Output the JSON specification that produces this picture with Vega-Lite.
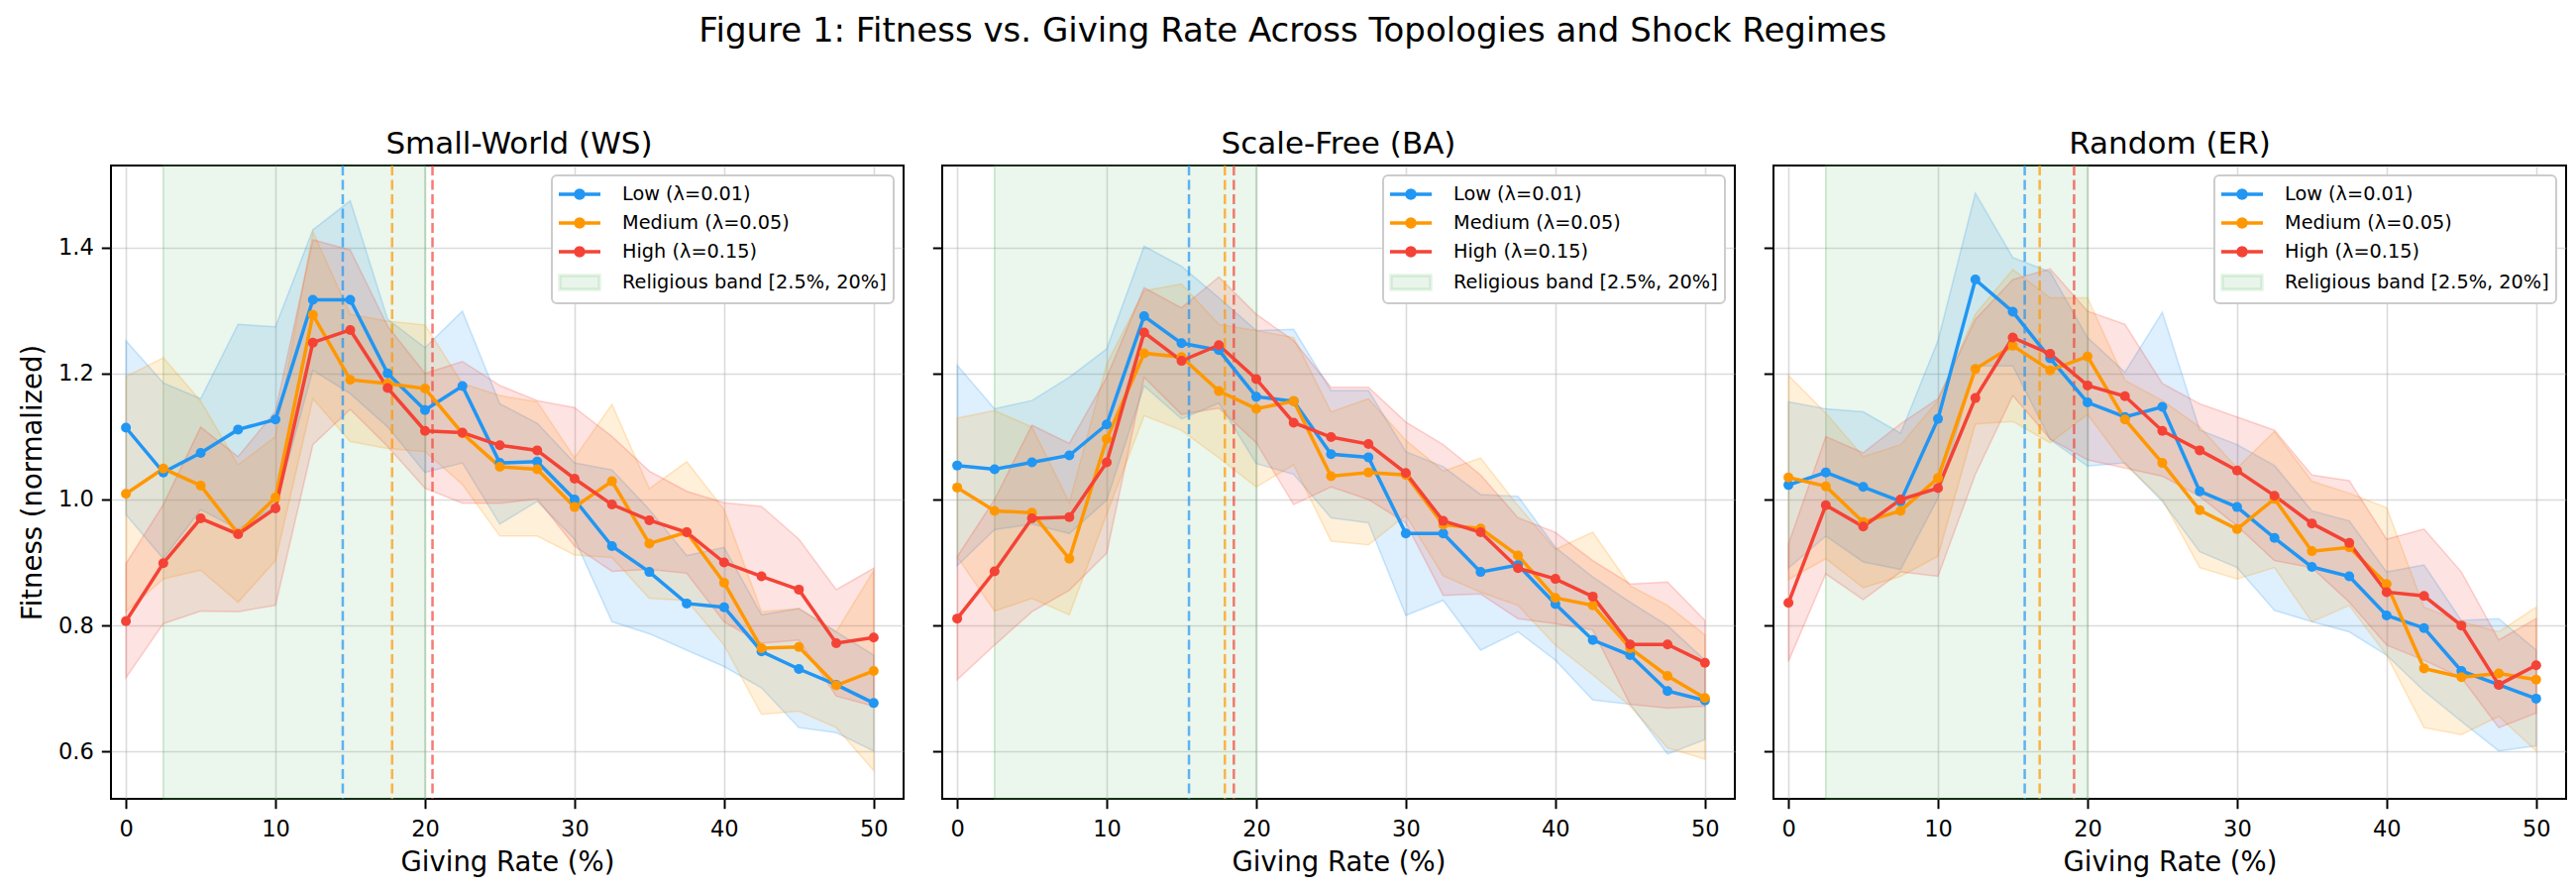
{
  "$schema": "https://vega.github.io/schema/vega-lite/v6.json",
  "padding": {"left": 18, "top": 14, "right": 0, "bottom": 0},
  "config": {
    "font": "DejaVu Sans",
    "view": {"stroke": "#000000", "strokeWidth": 2},
    "axis": {
      "grid": true, "gridColor": "#b0b0b0", "gridOpacity": 0.45, "gridWidth": 1.6,
      "domain": false, "tickColor": "#000000", "tickSize": 9.7, "tickWidth": 2,
      "labelFontSize": 22.5, "labelColor": "#000000",
      "titleFontSize": 27.5, "titleFontWeight": "normal", "titleColor": "#000000"
    },
    "axisX": {"labelPadding": 10, "titlePadding": 8},
    "axisY": {"labelPadding": 8, "titlePadding": 11},
    "legend": {
      "labelFontSize": 19.3, "labelColor": "#000000", "labelLimit": 0, "padding": 7, "rowPadding": 6,
      "labelOffset": 31, "symbolOffset": 9,
      "fillColor": "#ffffff", "strokeColor": "#cccccc", "strokeWidth": 2, "cornerRadius": 5,
      "orient": "top-right", "offset": 10
    },
    "title": {"fontSize": 31, "fontWeight": "normal", "color": "#000000", "baseline": "alphabetic", "offset": 0, "frame": "group", "anchor": "middle"}
  },
  "title": {
    "text": "Figure 1: Fitness vs. Giving Rate Across Topologies and Shock Regimes",
    "fontSize": 34, "anchor": "middle", "frame": "bounds", "offset": 80
  },
  "datasets": {
    "curves": [
      {"topo":"WS","regime":"Low (λ=0.01)","rate":0,"fit":1.114,"lo":0.976,"hi":1.252},
      {"topo":"WS","regime":"Low (λ=0.01)","rate":2.5,"fit":1.043,"lo":0.906,"hi":1.185},
      {"topo":"WS","regime":"Low (λ=0.01)","rate":5,"fit":1.074,"lo":0.984,"hi":1.160},
      {"topo":"WS","regime":"Low (λ=0.01)","rate":7.5,"fit":1.111,"lo":0.953,"hi":1.278},
      {"topo":"WS","regime":"Low (λ=0.01)","rate":10,"fit":1.127,"lo":0.989,"hi":1.274},
      {"topo":"WS","regime":"Low (λ=0.01)","rate":12.5,"fit":1.317,"lo":1.205,"hi":1.428},
      {"topo":"WS","regime":"Low (λ=0.01)","rate":15,"fit":1.317,"lo":1.168,"hi":1.474},
      {"topo":"WS","regime":"Low (λ=0.01)","rate":17.5,"fit":1.200,"lo":1.115,"hi":1.286},
      {"topo":"WS","regime":"Low (λ=0.01)","rate":20,"fit":1.142,"lo":1.043,"hi":1.241},
      {"topo":"WS","regime":"Low (λ=0.01)","rate":22.5,"fit":1.180,"lo":1.058,"hi":1.299},
      {"topo":"WS","regime":"Low (λ=0.01)","rate":25,"fit":1.058,"lo":0.961,"hi":1.152},
      {"topo":"WS","regime":"Low (λ=0.01)","rate":27.5,"fit":1.060,"lo":0.997,"hi":1.121},
      {"topo":"WS","regime":"Low (λ=0.01)","rate":30,"fit":1.000,"lo":0.937,"hi":1.058},
      {"topo":"WS","regime":"Low (λ=0.01)","rate":32.5,"fit":0.926,"lo":0.806,"hi":1.047},
      {"topo":"WS","regime":"Low (λ=0.01)","rate":35,"fit":0.885,"lo":0.787,"hi":0.984},
      {"topo":"WS","regime":"Low (λ=0.01)","rate":37.5,"fit":0.835,"lo":0.761,"hi":0.911},
      {"topo":"WS","regime":"Low (λ=0.01)","rate":40,"fit":0.829,"lo":0.735,"hi":0.924},
      {"topo":"WS","regime":"Low (λ=0.01)","rate":42.5,"fit":0.759,"lo":0.701,"hi":0.817},
      {"topo":"WS","regime":"Low (λ=0.01)","rate":45,"fit":0.731,"lo":0.638,"hi":0.827},
      {"topo":"WS","regime":"Low (λ=0.01)","rate":47.5,"fit":0.706,"lo":0.630,"hi":0.790},
      {"topo":"WS","regime":"Low (λ=0.01)","rate":50,"fit":0.677,"lo":0.601,"hi":0.753},
      {"topo":"WS","regime":"Medium (λ=0.05)","rate":0,"fit":1.009,"lo":0.822,"hi":1.195},
      {"topo":"WS","regime":"Medium (λ=0.05)","rate":2.5,"fit":1.049,"lo":0.874,"hi":1.225},
      {"topo":"WS","regime":"Medium (λ=0.05)","rate":5,"fit":1.022,"lo":0.888,"hi":1.156},
      {"topo":"WS","regime":"Medium (λ=0.05)","rate":7.5,"fit":0.946,"lo":0.837,"hi":1.055},
      {"topo":"WS","regime":"Medium (λ=0.05)","rate":10,"fit":1.003,"lo":0.903,"hi":1.100},
      {"topo":"WS","regime":"Medium (λ=0.05)","rate":12.5,"fit":1.293,"lo":1.160,"hi":1.425},
      {"topo":"WS","regime":"Medium (λ=0.05)","rate":15,"fit":1.190,"lo":1.092,"hi":1.294},
      {"topo":"WS","regime":"Medium (λ=0.05)","rate":17.5,"fit":1.184,"lo":1.081,"hi":1.283},
      {"topo":"WS","regime":"Medium (λ=0.05)","rate":20,"fit":1.176,"lo":1.076,"hi":1.277},
      {"topo":"WS","regime":"Medium (λ=0.05)","rate":22.5,"fit":1.105,"lo":1.024,"hi":1.184},
      {"topo":"WS","regime":"Medium (λ=0.05)","rate":25,"fit":1.052,"lo":0.942,"hi":1.165},
      {"topo":"WS","regime":"Medium (λ=0.05)","rate":27.5,"fit":1.048,"lo":0.942,"hi":1.155},
      {"topo":"WS","regime":"Medium (λ=0.05)","rate":30,"fit":0.988,"lo":0.912,"hi":1.066},
      {"topo":"WS","regime":"Medium (λ=0.05)","rate":32.5,"fit":1.029,"lo":0.908,"hi":1.151},
      {"topo":"WS","regime":"Medium (λ=0.05)","rate":35,"fit":0.930,"lo":0.843,"hi":1.017},
      {"topo":"WS","regime":"Medium (λ=0.05)","rate":37.5,"fit":0.948,"lo":0.840,"hi":1.060},
      {"topo":"WS","regime":"Medium (λ=0.05)","rate":40,"fit":0.868,"lo":0.769,"hi":0.984},
      {"topo":"WS","regime":"Medium (λ=0.05)","rate":42.5,"fit":0.764,"lo":0.659,"hi":0.822},
      {"topo":"WS","regime":"Medium (λ=0.05)","rate":45,"fit":0.766,"lo":0.664,"hi":0.827},
      {"topo":"WS","regime":"Medium (λ=0.05)","rate":47.5,"fit":0.705,"lo":0.638,"hi":0.790},
      {"topo":"WS","regime":"Medium (λ=0.05)","rate":50,"fit":0.728,"lo":0.570,"hi":0.887},
      {"topo":"WS","regime":"High (λ=0.15)","rate":0,"fit":0.807,"lo":0.717,"hi":0.898},
      {"topo":"WS","regime":"High (λ=0.15)","rate":2.5,"fit":0.899,"lo":0.803,"hi":0.992},
      {"topo":"WS","regime":"High (λ=0.15)","rate":5,"fit":0.970,"lo":0.823,"hi":1.115},
      {"topo":"WS","regime":"High (λ=0.15)","rate":7.5,"fit":0.945,"lo":0.822,"hi":1.068},
      {"topo":"WS","regime":"High (λ=0.15)","rate":10,"fit":0.986,"lo":0.832,"hi":1.140},
      {"topo":"WS","regime":"High (λ=0.15)","rate":12.5,"fit":1.249,"lo":1.087,"hi":1.412},
      {"topo":"WS","regime":"High (λ=0.15)","rate":15,"fit":1.269,"lo":1.143,"hi":1.396},
      {"topo":"WS","regime":"High (λ=0.15)","rate":17.5,"fit":1.177,"lo":1.084,"hi":1.275},
      {"topo":"WS","regime":"High (λ=0.15)","rate":20,"fit":1.109,"lo":1.018,"hi":1.200},
      {"topo":"WS","regime":"High (λ=0.15)","rate":22.5,"fit":1.106,"lo":0.994,"hi":1.219},
      {"topo":"WS","regime":"High (λ=0.15)","rate":25,"fit":1.086,"lo":0.994,"hi":1.181},
      {"topo":"WS","regime":"High (λ=0.15)","rate":27.5,"fit":1.078,"lo":1.001,"hi":1.157},
      {"topo":"WS","regime":"High (λ=0.15)","rate":30,"fit":1.033,"lo":0.926,"hi":1.146},
      {"topo":"WS","regime":"High (λ=0.15)","rate":32.5,"fit":0.992,"lo":0.886,"hi":1.100},
      {"topo":"WS","regime":"High (λ=0.15)","rate":35,"fit":0.967,"lo":0.889,"hi":1.045},
      {"topo":"WS","regime":"High (λ=0.15)","rate":37.5,"fit":0.948,"lo":0.883,"hi":1.013},
      {"topo":"WS","regime":"High (λ=0.15)","rate":40,"fit":0.900,"lo":0.806,"hi":0.995},
      {"topo":"WS","regime":"High (λ=0.15)","rate":42.5,"fit":0.878,"lo":0.772,"hi":0.989},
      {"topo":"WS","regime":"High (λ=0.15)","rate":45,"fit":0.857,"lo":0.777,"hi":0.937},
      {"topo":"WS","regime":"High (λ=0.15)","rate":47.5,"fit":0.772,"lo":0.688,"hi":0.857},
      {"topo":"WS","regime":"High (λ=0.15)","rate":50,"fit":0.781,"lo":0.672,"hi":0.891},

      {"topo":"BA","regime":"Low (λ=0.01)","rate":0,"fit":1.054,"lo":0.895,"hi":1.213},
      {"topo":"BA","regime":"Low (λ=0.01)","rate":2.5,"fit":1.048,"lo":0.952,"hi":1.144},
      {"topo":"BA","regime":"Low (λ=0.01)","rate":5,"fit":1.059,"lo":0.961,"hi":1.157},
      {"topo":"BA","regime":"Low (λ=0.01)","rate":7.5,"fit":1.070,"lo":0.946,"hi":1.194},
      {"topo":"BA","regime":"Low (λ=0.01)","rate":10,"fit":1.119,"lo":0.999,"hi":1.239},
      {"topo":"BA","regime":"Low (λ=0.01)","rate":12.5,"fit":1.291,"lo":1.180,"hi":1.402},
      {"topo":"BA","regime":"Low (λ=0.01)","rate":15,"fit":1.248,"lo":1.128,"hi":1.370},
      {"topo":"BA","regime":"Low (λ=0.01)","rate":17.5,"fit":1.237,"lo":1.153,"hi":1.320},
      {"topo":"BA","regime":"Low (λ=0.01)","rate":20,"fit":1.163,"lo":1.057,"hi":1.268},
      {"topo":"BA","regime":"Low (λ=0.01)","rate":22.5,"fit":1.156,"lo":1.040,"hi":1.270},
      {"topo":"BA","regime":"Low (λ=0.01)","rate":25,"fit":1.072,"lo":0.971,"hi":1.173},
      {"topo":"BA","regime":"Low (λ=0.01)","rate":27.5,"fit":1.067,"lo":0.963,"hi":1.173},
      {"topo":"BA","regime":"Low (λ=0.01)","rate":30,"fit":0.946,"lo":0.816,"hi":1.076},
      {"topo":"BA","regime":"Low (λ=0.01)","rate":32.5,"fit":0.946,"lo":0.840,"hi":1.052},
      {"topo":"BA","regime":"Low (λ=0.01)","rate":35,"fit":0.885,"lo":0.761,"hi":1.008},
      {"topo":"BA","regime":"Low (λ=0.01)","rate":37.5,"fit":0.896,"lo":0.790,"hi":1.005},
      {"topo":"BA","regime":"Low (λ=0.01)","rate":40,"fit":0.834,"lo":0.745,"hi":0.924},
      {"topo":"BA","regime":"Low (λ=0.01)","rate":42.5,"fit":0.777,"lo":0.682,"hi":0.877},
      {"topo":"BA","regime":"Low (λ=0.01)","rate":45,"fit":0.753,"lo":0.675,"hi":0.837},
      {"topo":"BA","regime":"Low (λ=0.01)","rate":47.5,"fit":0.696,"lo":0.596,"hi":0.800},
      {"topo":"BA","regime":"Low (λ=0.01)","rate":50,"fit":0.681,"lo":0.619,"hi":0.745},
      {"topo":"BA","regime":"Medium (λ=0.05)","rate":0,"fit":1.019,"lo":0.909,"hi":1.129},
      {"topo":"BA","regime":"Medium (λ=0.05)","rate":2.5,"fit":0.982,"lo":0.823,"hi":1.141},
      {"topo":"BA","regime":"Medium (λ=0.05)","rate":5,"fit":0.979,"lo":0.843,"hi":1.115},
      {"topo":"BA","regime":"Medium (λ=0.05)","rate":7.5,"fit":0.906,"lo":0.817,"hi":0.995},
      {"topo":"BA","regime":"Medium (λ=0.05)","rate":10,"fit":1.096,"lo":0.977,"hi":1.215},
      {"topo":"BA","regime":"Medium (λ=0.05)","rate":12.5,"fit":1.232,"lo":1.133,"hi":1.331},
      {"topo":"BA","regime":"Medium (λ=0.05)","rate":15,"fit":1.226,"lo":1.110,"hi":1.342},
      {"topo":"BA","regime":"Medium (λ=0.05)","rate":17.5,"fit":1.172,"lo":1.066,"hi":1.278},
      {"topo":"BA","regime":"Medium (λ=0.05)","rate":20,"fit":1.144,"lo":1.020,"hi":1.268},
      {"topo":"BA","regime":"Medium (λ=0.05)","rate":22.5,"fit":1.156,"lo":1.055,"hi":1.257},
      {"topo":"BA","regime":"Medium (λ=0.05)","rate":25,"fit":1.037,"lo":0.934,"hi":1.139},
      {"topo":"BA","regime":"Medium (λ=0.05)","rate":27.5,"fit":1.043,"lo":0.928,"hi":1.160},
      {"topo":"BA","regime":"Medium (λ=0.05)","rate":30,"fit":1.039,"lo":0.975,"hi":1.094},
      {"topo":"BA","regime":"Medium (λ=0.05)","rate":32.5,"fit":0.960,"lo":0.879,"hi":1.045},
      {"topo":"BA","regime":"Medium (λ=0.05)","rate":35,"fit":0.954,"lo":0.853,"hi":1.066},
      {"topo":"BA","regime":"Medium (λ=0.05)","rate":37.5,"fit":0.911,"lo":0.832,"hi":0.990},
      {"topo":"BA","regime":"Medium (λ=0.05)","rate":40,"fit":0.844,"lo":0.769,"hi":0.921},
      {"topo":"BA","regime":"Medium (λ=0.05)","rate":42.5,"fit":0.832,"lo":0.722,"hi":0.948},
      {"topo":"BA","regime":"Medium (λ=0.05)","rate":45,"fit":0.764,"lo":0.672,"hi":0.863},
      {"topo":"BA","regime":"Medium (λ=0.05)","rate":47.5,"fit":0.720,"lo":0.606,"hi":0.832},
      {"topo":"BA","regime":"Medium (λ=0.05)","rate":50,"fit":0.685,"lo":0.588,"hi":0.785},
      {"topo":"BA","regime":"High (λ=0.15)","rate":0,"fit":0.811,"lo":0.714,"hi":0.909},
      {"topo":"BA","regime":"High (λ=0.15)","rate":2.5,"fit":0.886,"lo":0.769,"hi":1.000},
      {"topo":"BA","regime":"High (λ=0.15)","rate":5,"fit":0.970,"lo":0.822,"hi":1.118},
      {"topo":"BA","regime":"High (λ=0.15)","rate":7.5,"fit":0.972,"lo":0.856,"hi":1.089},
      {"topo":"BA","regime":"High (λ=0.15)","rate":10,"fit":1.059,"lo":0.915,"hi":1.194},
      {"topo":"BA","regime":"High (λ=0.15)","rate":12.5,"fit":1.265,"lo":1.194,"hi":1.336},
      {"topo":"BA","regime":"High (λ=0.15)","rate":15,"fit":1.220,"lo":1.135,"hi":1.304},
      {"topo":"BA","regime":"High (λ=0.15)","rate":17.5,"fit":1.245,"lo":1.145,"hi":1.353},
      {"topo":"BA","regime":"High (λ=0.15)","rate":20,"fit":1.191,"lo":1.090,"hi":1.294},
      {"topo":"BA","regime":"High (λ=0.15)","rate":22.5,"fit":1.122,"lo":0.992,"hi":1.252},
      {"topo":"BA","regime":"High (λ=0.15)","rate":25,"fit":1.099,"lo":1.020,"hi":1.178},
      {"topo":"BA","regime":"High (λ=0.15)","rate":27.5,"fit":1.088,"lo":1.000,"hi":1.178},
      {"topo":"BA","regime":"High (λ=0.15)","rate":30,"fit":1.042,"lo":0.963,"hi":1.123},
      {"topo":"BA","regime":"High (λ=0.15)","rate":32.5,"fit":0.966,"lo":0.848,"hi":1.087},
      {"topo":"BA","regime":"High (λ=0.15)","rate":35,"fit":0.948,"lo":0.850,"hi":1.039},
      {"topo":"BA","regime":"High (λ=0.15)","rate":37.5,"fit":0.891,"lo":0.811,"hi":0.971},
      {"topo":"BA","regime":"High (λ=0.15)","rate":40,"fit":0.874,"lo":0.803,"hi":0.948},
      {"topo":"BA","regime":"High (λ=0.15)","rate":42.5,"fit":0.846,"lo":0.793,"hi":0.903},
      {"topo":"BA","regime":"High (λ=0.15)","rate":45,"fit":0.770,"lo":0.675,"hi":0.866},
      {"topo":"BA","regime":"High (λ=0.15)","rate":47.5,"fit":0.770,"lo":0.669,"hi":0.869},
      {"topo":"BA","regime":"High (λ=0.15)","rate":50,"fit":0.741,"lo":0.672,"hi":0.808},

      {"topo":"ER","regime":"Low (λ=0.01)","rate":0,"fit":1.023,"lo":0.891,"hi":1.155},
      {"topo":"ER","regime":"Low (λ=0.01)","rate":2.5,"fit":1.043,"lo":0.942,"hi":1.144},
      {"topo":"ER","regime":"Low (λ=0.01)","rate":5,"fit":1.020,"lo":0.901,"hi":1.139},
      {"topo":"ER","regime":"Low (λ=0.01)","rate":7.5,"fit":0.997,"lo":0.889,"hi":1.105},
      {"topo":"ER","regime":"Low (λ=0.01)","rate":10,"fit":1.128,"lo":1.002,"hi":1.252},
      {"topo":"ER","regime":"Low (λ=0.01)","rate":12.5,"fit":1.349,"lo":1.212,"hi":1.486},
      {"topo":"ER","regime":"Low (λ=0.01)","rate":15,"fit":1.298,"lo":1.212,"hi":1.384},
      {"topo":"ER","regime":"Low (λ=0.01)","rate":17.5,"fit":1.224,"lo":1.095,"hi":1.361},
      {"topo":"ER","regime":"Low (λ=0.01)","rate":20,"fit":1.154,"lo":1.053,"hi":1.257},
      {"topo":"ER","regime":"Low (λ=0.01)","rate":22.5,"fit":1.131,"lo":1.058,"hi":1.202},
      {"topo":"ER","regime":"Low (λ=0.01)","rate":25,"fit":1.147,"lo":0.997,"hi":1.297},
      {"topo":"ER","regime":"Low (λ=0.01)","rate":27.5,"fit":1.013,"lo":0.917,"hi":1.110},
      {"topo":"ER","regime":"Low (λ=0.01)","rate":30,"fit":0.988,"lo":0.892,"hi":1.087},
      {"topo":"ER","regime":"Low (λ=0.01)","rate":32.5,"fit":0.939,"lo":0.824,"hi":1.054},
      {"topo":"ER","regime":"Low (λ=0.01)","rate":35,"fit":0.893,"lo":0.806,"hi":0.982},
      {"topo":"ER","regime":"Low (λ=0.01)","rate":37.5,"fit":0.878,"lo":0.790,"hi":0.966},
      {"topo":"ER","regime":"Low (λ=0.01)","rate":40,"fit":0.816,"lo":0.753,"hi":0.885},
      {"topo":"ER","regime":"Low (λ=0.01)","rate":42.5,"fit":0.796,"lo":0.696,"hi":0.896},
      {"topo":"ER","regime":"Low (λ=0.01)","rate":45,"fit":0.728,"lo":0.648,"hi":0.808},
      {"topo":"ER","regime":"Low (λ=0.01)","rate":47.5,"fit":0.706,"lo":0.601,"hi":0.811},
      {"topo":"ER","regime":"Low (λ=0.01)","rate":50,"fit":0.684,"lo":0.609,"hi":0.761},
      {"topo":"ER","regime":"Medium (λ=0.05)","rate":0,"fit":1.035,"lo":0.873,"hi":1.197},
      {"topo":"ER","regime":"Medium (λ=0.05)","rate":2.5,"fit":1.021,"lo":0.906,"hi":1.137},
      {"topo":"ER","regime":"Medium (λ=0.05)","rate":5,"fit":0.964,"lo":0.860,"hi":1.068},
      {"topo":"ER","regime":"Medium (λ=0.05)","rate":7.5,"fit":0.982,"lo":0.878,"hi":1.087},
      {"topo":"ER","regime":"Medium (λ=0.05)","rate":10,"fit":1.034,"lo":0.910,"hi":1.157},
      {"topo":"ER","regime":"Medium (λ=0.05)","rate":12.5,"fit":1.207,"lo":1.120,"hi":1.294},
      {"topo":"ER","regime":"Medium (λ=0.05)","rate":15,"fit":1.244,"lo":1.124,"hi":1.365},
      {"topo":"ER","regime":"Medium (λ=0.05)","rate":17.5,"fit":1.205,"lo":1.090,"hi":1.320},
      {"topo":"ER","regime":"Medium (λ=0.05)","rate":20,"fit":1.227,"lo":1.135,"hi":1.320},
      {"topo":"ER","regime":"Medium (λ=0.05)","rate":22.5,"fit":1.127,"lo":1.056,"hi":1.189},
      {"topo":"ER","regime":"Medium (λ=0.05)","rate":25,"fit":1.058,"lo":1.000,"hi":1.157},
      {"topo":"ER","regime":"Medium (λ=0.05)","rate":27.5,"fit":0.983,"lo":0.892,"hi":1.115},
      {"topo":"ER","regime":"Medium (λ=0.05)","rate":30,"fit":0.953,"lo":0.874,"hi":1.050},
      {"topo":"ER","regime":"Medium (λ=0.05)","rate":32.5,"fit":1.001,"lo":0.892,"hi":1.108},
      {"topo":"ER","regime":"Medium (λ=0.05)","rate":35,"fit":0.918,"lo":0.806,"hi":1.029},
      {"topo":"ER","regime":"Medium (λ=0.05)","rate":37.5,"fit":0.924,"lo":0.832,"hi":1.010},
      {"topo":"ER","regime":"Medium (λ=0.05)","rate":40,"fit":0.866,"lo":0.753,"hi":0.987},
      {"topo":"ER","regime":"Medium (λ=0.05)","rate":42.5,"fit":0.732,"lo":0.638,"hi":0.829},
      {"topo":"ER","regime":"Medium (λ=0.05)","rate":45,"fit":0.718,"lo":0.627,"hi":0.806},
      {"topo":"ER","regime":"Medium (λ=0.05)","rate":47.5,"fit":0.724,"lo":0.656,"hi":0.790},
      {"topo":"ER","regime":"Medium (λ=0.05)","rate":50,"fit":0.714,"lo":0.601,"hi":0.829},
      {"topo":"ER","regime":"High (λ=0.15)","rate":0,"fit":0.836,"lo":0.743,"hi":0.929},
      {"topo":"ER","regime":"High (λ=0.15)","rate":2.5,"fit":0.991,"lo":0.882,"hi":1.100},
      {"topo":"ER","regime":"High (λ=0.15)","rate":5,"fit":0.957,"lo":0.841,"hi":1.074},
      {"topo":"ER","regime":"High (λ=0.15)","rate":7.5,"fit":1.000,"lo":0.885,"hi":1.120},
      {"topo":"ER","regime":"High (λ=0.15)","rate":10,"fit":1.018,"lo":0.878,"hi":1.160},
      {"topo":"ER","regime":"High (λ=0.15)","rate":12.5,"fit":1.161,"lo":1.040,"hi":1.286},
      {"topo":"ER","regime":"High (λ=0.15)","rate":15,"fit":1.257,"lo":1.165,"hi":1.349},
      {"topo":"ER","regime":"High (λ=0.15)","rate":17.5,"fit":1.231,"lo":1.096,"hi":1.366},
      {"topo":"ER","regime":"High (λ=0.15)","rate":20,"fit":1.181,"lo":1.063,"hi":1.299},
      {"topo":"ER","regime":"High (λ=0.15)","rate":22.5,"fit":1.164,"lo":1.050,"hi":1.278},
      {"topo":"ER","regime":"High (λ=0.15)","rate":25,"fit":1.109,"lo":1.037,"hi":1.184},
      {"topo":"ER","regime":"High (λ=0.15)","rate":27.5,"fit":1.078,"lo":1.005,"hi":1.152},
      {"topo":"ER","regime":"High (λ=0.15)","rate":30,"fit":1.046,"lo":0.958,"hi":1.131},
      {"topo":"ER","regime":"High (λ=0.15)","rate":32.5,"fit":1.006,"lo":0.903,"hi":1.110},
      {"topo":"ER","regime":"High (λ=0.15)","rate":35,"fit":0.962,"lo":0.892,"hi":1.039},
      {"topo":"ER","regime":"High (λ=0.15)","rate":37.5,"fit":0.931,"lo":0.837,"hi":1.030},
      {"topo":"ER","regime":"High (λ=0.15)","rate":40,"fit":0.853,"lo":0.769,"hi":0.937},
      {"topo":"ER","regime":"High (λ=0.15)","rate":42.5,"fit":0.847,"lo":0.745,"hi":0.953},
      {"topo":"ER","regime":"High (λ=0.15)","rate":45,"fit":0.800,"lo":0.717,"hi":0.885},
      {"topo":"ER","regime":"High (λ=0.15)","rate":47.5,"fit":0.706,"lo":0.638,"hi":0.777},
      {"topo":"ER","regime":"High (λ=0.15)","rate":50,"fit":0.737,"lo":0.661,"hi":0.811}
    ],
    "vlines": [
      {"topo":"WS","regime":"Low (λ=0.01)","rate":14.5},
      {"topo":"WS","regime":"Medium (λ=0.05)","rate":17.8},
      {"topo":"WS","regime":"High (λ=0.15)","rate":20.5},
      {"topo":"BA","regime":"Low (λ=0.01)","rate":15.5},
      {"topo":"BA","regime":"Medium (λ=0.05)","rate":17.9},
      {"topo":"BA","regime":"High (λ=0.15)","rate":18.5},
      {"topo":"ER","regime":"Low (λ=0.01)","rate":15.8},
      {"topo":"ER","regime":"Medium (λ=0.05)","rate":16.8},
      {"topo":"ER","regime":"High (λ=0.15)","rate":19.1}
    ],
    "band": [
      {"regime":"Religious band [2.5%, 20%]","rate":2.5,"rate_end":20}
    ]
  },
  "spacing": 26,
  "resolve": {"scale": {"color": "independent", "stroke": "independent"}, "legend": {"color": "independent"}},
  "hconcat": [
    {
      "title": {"text": "Small-World (WS)", "dx": 12},
      "width": 800, "height": 639,
      "encoding": {
        "x": {"field": "rate", "type": "quantitative", "title": "Giving Rate (%)",
              "scale": {"domain": [-1, 52], "nice": false, "zero": false},
              "axis": {"values": [0, 10, 20, 30, 40, 50]}},
        "color": {"field": "regime", "type": "nominal",
          "scale": {"domain": ["Low (λ=0.01)", "Medium (λ=0.05)", "High (λ=0.15)", "Religious band [2.5%, 20%]"],
                    "range": ["#2196F3", "#FF9800", "#F44336", "#4CAF50"]},
          "legend": {"title": null, "symbolSize": 400, "symbolStrokeWidth": 3.5, "encode": {"symbols": {"update": {
            "shape": {"signal": "datum.value === 'Religious band [2.5%, 20%]' ? 'M-2,-0.7H2V0.7H-2Z' : 'M-2.1,0H2.1M0.4,0L0.346,0.2L0.2,0.346L0,0.4L-0.2,0.346L-0.346,0.2L-0.4,0L-0.346,-0.2L-0.2,-0.346L0,-0.4L0.2,-0.346L0.346,-0.2Z'"},
            "fill": {"signal": "datum.value === 'Low (λ=0.01)' ? '#2196F3' : datum.value === 'Medium (λ=0.05)' ? '#FF9800' : datum.value === 'High (λ=0.15)' ? '#F44336' : '#4CAF50'"},
            "stroke": {"signal": "datum.value === 'Low (λ=0.01)' ? '#2196F3' : datum.value === 'Medium (λ=0.05)' ? '#FF9800' : datum.value === 'High (λ=0.15)' ? '#F44336' : '#4CAF50'"},
            "fillOpacity": {"signal": "datum.value === 'Religious band [2.5%, 20%]' ? 0.12 : 1"},
            "strokeOpacity": {"signal": "datum.value === 'Religious band [2.5%, 20%]' ? 0.15 : 1"},
            "opacity": {"value": 1}
          }}}}
        }
      },
      "layer": [
        {"data": {"name": "band"},
         "mark": {"type": "rect", "fillOpacity": 0.11, "stroke": "#4CAF50", "strokeOpacity": 0.3, "strokeWidth": 1.5},
         "encoding": {"x2": {"field": "rate_end"}}},
        {"data": {"name": "curves"}, "transform": [{"filter": "datum.topo === 'WS'"}],
         "mark": {"type": "area", "fillOpacity": 0.15, "strokeOpacity": 0.22, "strokeWidth": 1.5},
         "encoding": {
           "y": {"field": "lo", "type": "quantitative", "title": "Fitness (normalized)",
                 "scale": {"domain": [0.525, 1.53], "nice": false, "zero": false},
                 "axis": {"values": [0.6, 0.8, 1.0, 1.2, 1.4], "format": ".1f"}},
           "y2": {"field": "hi"},
           "stroke": {"field": "regime", "type": "nominal", "legend": null,
             "scale": {"domain": ["Low (λ=0.01)", "Medium (λ=0.05)", "High (λ=0.15)"], "range": ["#2196F3", "#FF9800", "#F44336"]}}
         }},
        {"data": {"name": "vlines"}, "transform": [{"filter": "datum.topo === 'WS'"}],
         "mark": {"type": "rule", "strokeDash": [10, 4.5], "strokeWidth": 2.5, "opacity": 0.7},
         "encoding": {}},
        {"data": {"name": "curves"}, "transform": [{"filter": "datum.topo === 'WS'"}],
         "mark": {"type": "line", "strokeWidth": 3.5, "point": {"filled": true, "size": 100, "opacity": 1}},
         "encoding": {
           "y": {"field": "fit", "type": "quantitative", "title": "Fitness (normalized)",
                 "scale": {"domain": [0.525, 1.53], "nice": false, "zero": false},
                 "axis": {"values": [0.6, 0.8, 1.0, 1.2, 1.4], "format": ".1f"}}
         }}
      ]
    },
    {
      "title": {"text": "Scale-Free (BA)"},
      "width": 800, "height": 639,
      "encoding": {
        "x": {"field": "rate", "type": "quantitative", "title": "Giving Rate (%)",
              "scale": {"domain": [-1, 52], "nice": false, "zero": false},
              "axis": {"values": [0, 10, 20, 30, 40, 50]}},
        "color": {"field": "regime", "type": "nominal",
          "scale": {"domain": ["Low (λ=0.01)", "Medium (λ=0.05)", "High (λ=0.15)", "Religious band [2.5%, 20%]"],
                    "range": ["#2196F3", "#FF9800", "#F44336", "#4CAF50"]},
          "legend": {"title": null, "symbolSize": 400, "symbolStrokeWidth": 3.5, "encode": {"symbols": {"update": {
            "shape": {"signal": "datum.value === 'Religious band [2.5%, 20%]' ? 'M-2,-0.7H2V0.7H-2Z' : 'M-2.1,0H2.1M0.4,0L0.346,0.2L0.2,0.346L0,0.4L-0.2,0.346L-0.346,0.2L-0.4,0L-0.346,-0.2L-0.2,-0.346L0,-0.4L0.2,-0.346L0.346,-0.2Z'"},
            "fill": {"signal": "datum.value === 'Low (λ=0.01)' ? '#2196F3' : datum.value === 'Medium (λ=0.05)' ? '#FF9800' : datum.value === 'High (λ=0.15)' ? '#F44336' : '#4CAF50'"},
            "stroke": {"signal": "datum.value === 'Low (λ=0.01)' ? '#2196F3' : datum.value === 'Medium (λ=0.05)' ? '#FF9800' : datum.value === 'High (λ=0.15)' ? '#F44336' : '#4CAF50'"},
            "fillOpacity": {"signal": "datum.value === 'Religious band [2.5%, 20%]' ? 0.12 : 1"},
            "strokeOpacity": {"signal": "datum.value === 'Religious band [2.5%, 20%]' ? 0.15 : 1"},
            "opacity": {"value": 1}
          }}}}
        }
      },
      "layer": [
        {"data": {"name": "band"},
         "mark": {"type": "rect", "fillOpacity": 0.11, "stroke": "#4CAF50", "strokeOpacity": 0.3, "strokeWidth": 1.5},
         "encoding": {"x2": {"field": "rate_end"}}},
        {"data": {"name": "curves"}, "transform": [{"filter": "datum.topo === 'BA'"}],
         "mark": {"type": "area", "fillOpacity": 0.15, "strokeOpacity": 0.22, "strokeWidth": 1.5},
         "encoding": {
           "y": {"field": "lo", "type": "quantitative", "title": null,
                 "scale": {"domain": [0.525, 1.53], "nice": false, "zero": false},
                 "axis": {"values": [0.6, 0.8, 1.0, 1.2, 1.4], "labels": false}},
           "y2": {"field": "hi"},
           "stroke": {"field": "regime", "type": "nominal", "legend": null,
             "scale": {"domain": ["Low (λ=0.01)", "Medium (λ=0.05)", "High (λ=0.15)"], "range": ["#2196F3", "#FF9800", "#F44336"]}}
         }},
        {"data": {"name": "vlines"}, "transform": [{"filter": "datum.topo === 'BA'"}],
         "mark": {"type": "rule", "strokeDash": [10, 4.5], "strokeWidth": 2.5, "opacity": 0.7},
         "encoding": {}},
        {"data": {"name": "curves"}, "transform": [{"filter": "datum.topo === 'BA'"}],
         "mark": {"type": "line", "strokeWidth": 3.5, "point": {"filled": true, "size": 100, "opacity": 1}},
         "encoding": {
           "y": {"field": "fit", "type": "quantitative", "title": null,
                 "scale": {"domain": [0.525, 1.53], "nice": false, "zero": false},
                 "axis": {"values": [0.6, 0.8, 1.0, 1.2, 1.4], "labels": false}}
         }}
      ]
    },
    {
      "title": {"text": "Random (ER)"},
      "width": 800, "height": 639,
      "encoding": {
        "x": {"field": "rate", "type": "quantitative", "title": "Giving Rate (%)",
              "scale": {"domain": [-1, 52], "nice": false, "zero": false},
              "axis": {"values": [0, 10, 20, 30, 40, 50]}},
        "color": {"field": "regime", "type": "nominal",
          "scale": {"domain": ["Low (λ=0.01)", "Medium (λ=0.05)", "High (λ=0.15)", "Religious band [2.5%, 20%]"],
                    "range": ["#2196F3", "#FF9800", "#F44336", "#4CAF50"]},
          "legend": {"title": null, "symbolSize": 400, "symbolStrokeWidth": 3.5, "encode": {"symbols": {"update": {
            "shape": {"signal": "datum.value === 'Religious band [2.5%, 20%]' ? 'M-2,-0.7H2V0.7H-2Z' : 'M-2.1,0H2.1M0.4,0L0.346,0.2L0.2,0.346L0,0.4L-0.2,0.346L-0.346,0.2L-0.4,0L-0.346,-0.2L-0.2,-0.346L0,-0.4L0.2,-0.346L0.346,-0.2Z'"},
            "fill": {"signal": "datum.value === 'Low (λ=0.01)' ? '#2196F3' : datum.value === 'Medium (λ=0.05)' ? '#FF9800' : datum.value === 'High (λ=0.15)' ? '#F44336' : '#4CAF50'"},
            "stroke": {"signal": "datum.value === 'Low (λ=0.01)' ? '#2196F3' : datum.value === 'Medium (λ=0.05)' ? '#FF9800' : datum.value === 'High (λ=0.15)' ? '#F44336' : '#4CAF50'"},
            "fillOpacity": {"signal": "datum.value === 'Religious band [2.5%, 20%]' ? 0.12 : 1"},
            "strokeOpacity": {"signal": "datum.value === 'Religious band [2.5%, 20%]' ? 0.15 : 1"},
            "opacity": {"value": 1}
          }}}}
        }
      },
      "layer": [
        {"data": {"name": "band"},
         "mark": {"type": "rect", "fillOpacity": 0.11, "stroke": "#4CAF50", "strokeOpacity": 0.3, "strokeWidth": 1.5},
         "encoding": {"x2": {"field": "rate_end"}}},
        {"data": {"name": "curves"}, "transform": [{"filter": "datum.topo === 'ER'"}],
         "mark": {"type": "area", "fillOpacity": 0.15, "strokeOpacity": 0.22, "strokeWidth": 1.5},
         "encoding": {
           "y": {"field": "lo", "type": "quantitative", "title": null,
                 "scale": {"domain": [0.525, 1.53], "nice": false, "zero": false},
                 "axis": {"values": [0.6, 0.8, 1.0, 1.2, 1.4], "labels": false}},
           "y2": {"field": "hi"},
           "stroke": {"field": "regime", "type": "nominal", "legend": null,
             "scale": {"domain": ["Low (λ=0.01)", "Medium (λ=0.05)", "High (λ=0.15)"], "range": ["#2196F3", "#FF9800", "#F44336"]}}
         }},
        {"data": {"name": "vlines"}, "transform": [{"filter": "datum.topo === 'ER'"}],
         "mark": {"type": "rule", "strokeDash": [10, 4.5], "strokeWidth": 2.5, "opacity": 0.7},
         "encoding": {}},
        {"data": {"name": "curves"}, "transform": [{"filter": "datum.topo === 'ER'"}],
         "mark": {"type": "line", "strokeWidth": 3.5, "point": {"filled": true, "size": 100, "opacity": 1}},
         "encoding": {
           "y": {"field": "fit", "type": "quantitative", "title": null,
                 "scale": {"domain": [0.525, 1.53], "nice": false, "zero": false},
                 "axis": {"values": [0.6, 0.8, 1.0, 1.2, 1.4], "labels": false}}
         }}
      ]
    }
  ]
}
